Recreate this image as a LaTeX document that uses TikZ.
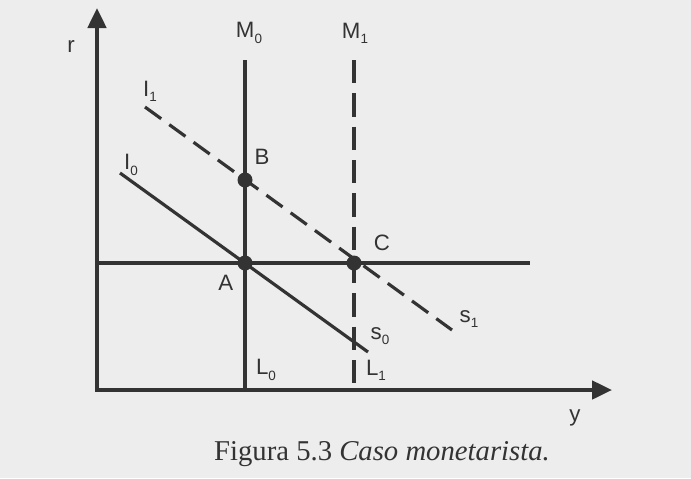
\documentclass[tikz,border=0pt]{standalone}
\usepackage{fontspec}
\setmainfont{Liberation Serif}
\setsansfont{Liberation Sans}
\usetikzlibrary{arrows.meta,positioning}

\definecolor{ink}{gray}{0.2}
\definecolor{paper}{gray}{0.93}
\newcommand{\lowsub}[1]{\raisebox{-0.45ex}{\fontsize{11.5}{11.5}\selectfont #1}}

\begin{document}
\begin{tikzpicture}[
  x=0.3mm, y=-0.3mm,
  axis/.style={draw=ink, line width=3.2pt, line join=miter,
    {Triangle[length=6mm,width=5.5mm]}-{Triangle[length=6mm,width=5.5mm]}},
  curve/.style={draw=ink, line width=2.7pt},
  shifted/.style={curve, dash pattern=on 7mm off 3mm},
  dot/.style={circle, fill=ink, inner sep=0pt, minimum size=4.5mm},
  lbl/.style={font=\sffamily\fontsize{19}{19}\selectfont, text=ink, inner sep=1pt},
  caption/.style={font=\fontsize{24.5}{26}\selectfont, text=ink}
]
\fill[paper] (0,0) rectangle (691,478);
\useasboundingbox (0,0) rectangle (691,478);

% axes
\coordinate (O) at (97,390);
\coordinate (rtop) at (97,8);
\coordinate (yend) at (612,390);
\draw[axis] (rtop) |- (yend);
\node[lbl] (rlabel) at (71,47) {r};
\node[lbl] (ylabel) at (575,418) {y};

% equilibria
\node[dot] (A) at (245,263) {};
\node[dot] (B) at (245,180) {};
\node[dot] (C) at (354,263) {};

% interest rate level
\coordinate (hend) at (530,263);
\draw[curve] (O |- A) -- (hend);

% LM curves
\coordinate (M0top) at (245,60);
\coordinate (M1top) at (354,60);
\draw[curve] (M0top) -- (M0top |- O);
\draw[shifted] (M1top) -- (M1top |- O);

% IS curves
\coordinate (i0) at (120,173);
\coordinate (s0) at (368,352);
\coordinate (i1) at (145,107);
\coordinate (s1) at (452,330);
\draw[curve] (i0) -- (s0);
\draw[shifted, dash pattern=on 6mm off 3mm] (i1) -- (s1);

% labels
\node[lbl] (M0label) at (249,33) {M\lowsub{0}};
\node[lbl] (M1label) at (355,33) {M\lowsub{1}};
\node[lbl] (L0label) at (266,370) {L\lowsub{0}};
\node[lbl] (L1label) at (376,370) {L\lowsub{1}};
\node[lbl] (I0label) at (131,165) {I\lowsub{0}};
\node[lbl] (I1label) at (150,91) {I\lowsub{1}};
\node[lbl] (s0label) at (380,336) {s\lowsub{0}};
\node[lbl] (s1label) at (469,319) {s\lowsub{1}};
\node[lbl, below left=1.5mm and 1.5mm of A] (Alabel) {A};
\node[lbl] (Blabel) at (262,157) {B};
\node[lbl] (Clabel) at (382,243) {C};

\node[caption] (fig) at (382,454) {Figura 5.3 \textit{Caso monetarista.}};
\end{tikzpicture}
\end{document}
